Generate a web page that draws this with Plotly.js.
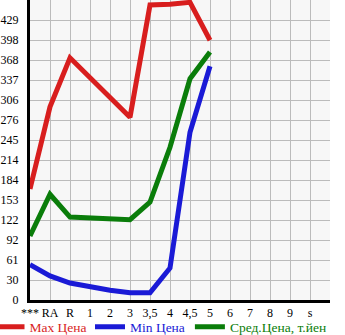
<!DOCTYPE html>
<html><head><meta charset="utf-8">
<script src="https://cdn.plot.ly/plotly-3.0.1.min.js"></script>
<style>html,body{margin:0;padding:0;background:#fff}</style>
</head><body>
<div id="chart" style="width:345px;height:335px"></div>
<script>
const categories = ["***","RA","R","1","2","3","3,5","4","4,5","5","6","7","8","9","s"];
const maxPrice = [170, 296, 371, 340, 310, 280, 452, 453, 456, 398, null, null, null, null, null];
const minPrice = [54, 37, 26, 20, 15, 11, 11, 49, 257, 358, null, null, null, null, null];
const avgPrice = [98, 162, 127, 126, 124, 123, 150, 234, 339, 380, null, null, null, null, null];
const yTickText = ["0","30","61","92","122","153","184","214","245","276","306","337","368","398","429",""];
const yStep = 30.64;
const seriesNames = ["Max Цена","Min Цена","Сред.Цена, т.йен"];
const seriesColors = ["#d81e1e","#1a1ad6","#0a7d0a"];

const xIdx = categories.map((c,i)=>i);
const yTickVals = yTickText.map((t,i)=>i*yStep);
const xTickVals = categories.map((c,i)=>i).concat([categories.length]);
const xTickText = categories.concat([""]);
const legendIds = ["legend","legend2","legend3"];
const legendX = [-0.135, 0.2, 0.533];

const traces = [maxPrice, minPrice, avgPrice].map((ys,k)=>({
  x: xIdx, y: ys, type:"scatter", mode:"lines", name: seriesNames[k], legend: legendIds[k],
  line:{color: seriesColors[k], width:5}, connectgaps:false, hoverinfo:"skip"
}));

const layout = {
  width:345, height:335,
  margin:{l:30, r:15, t:0, b:35, pad:0, autoexpand:false},
  paper_bgcolor:"#ffffff", plot_bgcolor:"#f7f7f7",
  font:{family:"Liberation Serif, serif", size:12, color:"#000"},
  showlegend:true,
  xaxis:{range:[0, categories.length], tickmode:"array", tickvals:xTickVals, ticktext:xTickText,
    showgrid:true, gridcolor:"#bbbbbb", gridwidth:1, zeroline:false,
    showline:true, linecolor:"#000", linewidth:3, ticks:"", tickfont:{size:12}, fixedrange:true},
  yaxis:{range:[0, 15*yStep], tickmode:"array", tickvals:yTickVals, ticktext:yTickText,
    showgrid:true, gridcolor:"#bbbbbb", gridwidth:1, zeroline:false,
    showline:true, linecolor:"#000", linewidth:3, ticks:"", ticklabelstandoff:6, tickfont:{size:12}, fixedrange:true}
};
legendIds.forEach((id,k)=>{
  layout[id] = {orientation:"h", x:legendX[k], xanchor:"left", y:-0.09, yanchor:"middle",
    font:{family:"Liberation Serif, serif", size:13.5, color: seriesColors[k]},
    bgcolor:"rgba(0,0,0,0)", itemclick:false};
});
Plotly.newPlot("chart", traces, layout, {staticPlot:true, displayModeBar:false});
</script>
</body></html>
